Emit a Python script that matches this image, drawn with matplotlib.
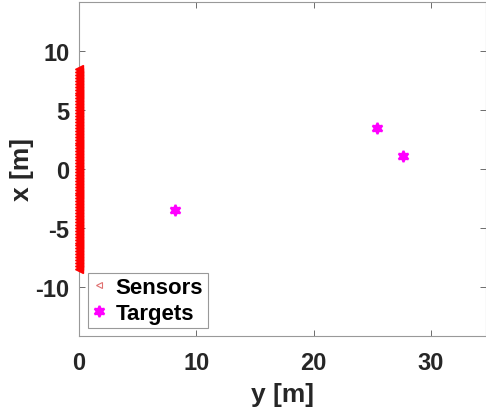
import matplotlib.pyplot as plt
from matplotlib.lines import Line2D

plt.rcParams['font.family'] = ['Liberation Sans', 'DejaVu Sans']
plt.rcParams['font.weight'] = 'bold'
plt.rcParams['axes.unicode_minus'] = False

# sensor array along the x axis (y = 0), 0.25 m pitch
sensor_x = [-8.5, -8.25, -8.0, -7.75, -7.5, -7.25, -7.0, -6.75, -6.5, -6.25,
            -6.0, -5.75, -5.5, -5.25, -5.0, -4.75, -4.5, -4.25, -4.0, -3.75,
            -3.5, -3.25, -3.0, -2.75, -2.5, -2.25, -2.0, -1.75, -1.5, -1.25,
            -1.0, -0.75, -0.5, -0.25, 0.0, 0.25, 0.5, 0.75, 1.0, 1.25,
            1.5, 1.75, 2.0, 2.25, 2.5, 2.75, 3.0, 3.25, 3.5, 3.75,
            4.0, 4.25, 4.5, 4.75, 5.0, 5.25, 5.5, 5.75, 6.0, 6.25,
            6.5, 6.75, 7.0, 7.25, 7.5, 7.75, 8.0, 8.25, 8.5]
sensor_y = [0.0] * len(sensor_x)

# target positions
target_y = [8.2, 25.4, 27.6]
target_x = [-3.5, 3.5, 1.1]

star6 = (6, 1, 0)


def display():
    fig = plt.figure(figsize=(4.86, 4.14), dpi=100)
    ax = fig.add_axes([79 / 486, 1 - 337 / 414, (486 - 79) / 486, (337 - 3) / 414])

    ax.plot(sensor_y, sensor_x, linestyle='none', marker='<', markersize=6,
            mfc='red', mec='red', clip_on=False, zorder=3)
    ax.plot(target_y, target_x, linestyle='none', marker=star6, markersize=8,
            mfc='magenta', mec='magenta', mew=1.5)

    ax.set_xlim(0, 34.7)
    ax.set_ylim(-14.2, 14.2)
    ax.set_xticks([0, 10, 20, 30])
    ax.set_yticks([-10, -5, 0, 5, 10])
    ax.tick_params(direction='in', length=4, width=0.6, color='#555555',
                   labelsize=17, top=True, right=True)
    ax.tick_params(axis='x', pad=11)
    ax.tick_params(axis='y', pad=7)
    for lab in ax.get_xticklabels() + ax.get_yticklabels():
        lab.set_fontweight('bold')
        lab.set_color('#262626')
    for s in ax.spines.values():
        s.set_color('#999999')
        s.set_linewidth(0.8)

    ax.set_xlabel('y [m]', fontsize=19, fontweight='bold', color='#262626')
    ax.set_ylabel('x [m]', fontsize=19, fontweight='bold', color='#262626')
    ax.xaxis.set_label_coords(0.5, -46 / 334)
    ax.yaxis.set_label_coords(-45 / 407, 0.5)

    handles = [
        Line2D([], [], linestyle='none', marker='<', markersize=5,
               mfc='none', mec='#e07070', mew=0.8),
        Line2D([], [], linestyle='none', marker=star6, markersize=8,
               mfc='magenta', mec='magenta', mew=1.5),
    ]
    leg = ax.legend(handles, ['Sensors', 'Targets'], loc='lower left',
                    bbox_to_anchor=(0.022, 0.024), fancybox=False, framealpha=1,
                    edgecolor='#999999', handlelength=0.6, handletextpad=0.45,
                    borderpad=0.2, labelspacing=0.2, borderaxespad=0.0,
                    prop={'size': 16, 'weight': 'bold'})
    leg.get_frame().set_linewidth(0.8)

    fig.savefig('out.png', dpi=100)


if __name__ == '__main__':
    display()
